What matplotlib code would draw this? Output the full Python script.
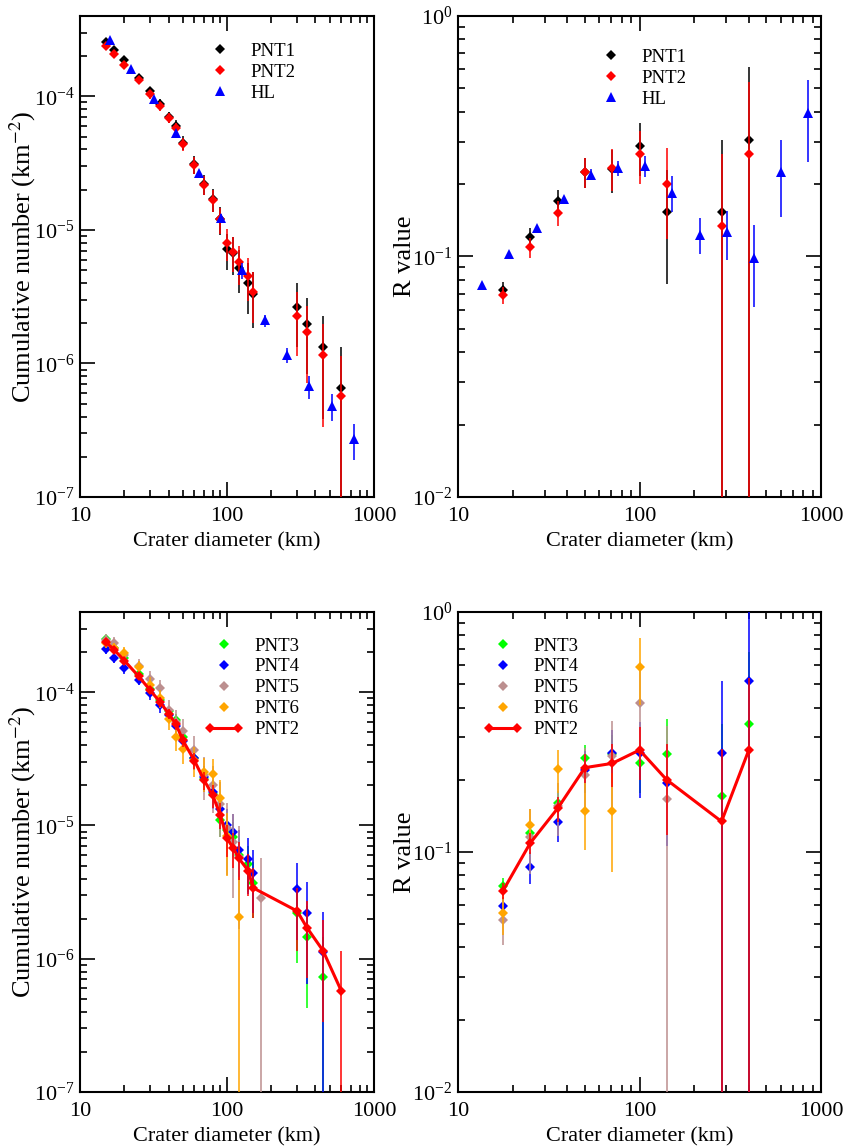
import numpy as np
import matplotlib
matplotlib.use('Agg')
import matplotlib.pyplot as plt
from matplotlib.legend_handler import HandlerLine2D
from matplotlib.ticker import LogLocator, NullFormatter, FixedLocator

plt.rcParams['font.family'] = ['Liberation Serif', 'DejaVu Serif']
plt.rcParams['mathtext.fontset'] = 'stix'

# ---------------- cumulative plots ----------------
d_cum = [15, 17, 20, 25, 30, 35, 40, 45, 50, 60, 70, 80, 90, 100, 110, 120, 140, 150, 300, 350, 450, 600]

pnt1_cum = [2.55e-4, 2.21e-4, 1.86e-4, 1.37e-4, 1.09e-4, 8.8e-5, 7.0e-5, 5.96e-5, 4.5e-5, 3.1e-5, 2.2e-5,
            1.7e-5, 1.2e-5, 7.2e-6, 6.7e-6, 5.2e-6, 4.0e-6, 3.33e-6, 2.65e-6, 1.97e-6, 1.33e-6, 6.6e-7]
pnt1_cum_rel = [0.05, 0.055, 0.06, 0.07, 0.08, 0.09, 0.1, 0.11, 0.12, 0.15, 0.17,
                0.2, 0.24, 0.3, 0.32, 0.35, 0.41, 0.45, 0.5, 0.58, 0.71, 0.999]

pnt2_cum = [2.38e-4, 2.09e-4, 1.73e-4, 1.32e-4, 1.035e-4, 8.46e-5, 6.92e-5, 5.76e-5, 4.37e-5, 3.07e-5, 2.18e-5,
            1.68e-5, 1.2e-5, 8.0e-6, 6.8e-6, 5.7e-6, 4.55e-6, 3.41e-6, 2.28e-6, 1.71e-6, 1.15e-6, 5.72e-7]
pnt2_cum_rel = [0.05, 0.05, 0.06, 0.07, 0.07, 0.08, 0.09, 0.1, 0.11, 0.14, 0.16,
                0.19, 0.22, 0.27, 0.29, 0.32, 0.35, 0.41, 0.5, 0.58, 0.71, 0.999]

d_hl = [15.9, 22.3, 31.8, 45, 64, 90.5, 126.5, 182, 257, 363, 515, 731]
hl_cum = [2.62e-4, 1.59e-4, 9.6e-5, 5.34e-5, 2.65e-5, 1.22e-5, 4.98e-6, 2.1e-6, 1.16e-6, 6.72e-7, 4.84e-7, 2.71e-7]
hl_cum_rel = [0.02, 0.03, 0.03, 0.04, 0.05, 0.07, 0.14, 0.1, 0.13, 0.2, 0.23, 0.3]

d_pnt3 = [15, 17, 20, 25, 30, 35, 40, 45, 50, 60, 70, 80, 90, 100, 110, 120, 140, 150, 300, 350, 450]
pnt3_cum = [2.53e-4, 2.15e-4, 1.80e-4, 1.37e-4, 1.06e-4, 8.8e-5, 7.2e-5, 6.2e-5, 4.6e-5, 3.2e-5, 2.25e-5,
            1.72e-5, 1.1e-5, 9.2e-6, 8.2e-6, 6.0e-6, 5.1e-6, 3.67e-6, 2.2e-6, 1.46e-6, 7.3e-7]
pnt3_cum_rel = [0.054, 0.058, 0.064, 0.073, 0.083, 0.091, 0.1, 0.108, 0.126, 0.15, 0.18,
                0.2, 0.26, 0.28, 0.3, 0.35, 0.38, 0.45, 0.58, 0.71, 0.999]

d_pnt4 = [15, 17, 20, 25, 30, 35, 40, 45, 50, 60, 70, 80, 90, 100, 110, 120, 140, 150, 300, 350, 450]
pnt4_cum = [2.10e-4, 1.81e-4, 1.51e-4, 1.245e-4, 9.8e-5, 8.0e-5, 6.7e-5, 5.6e-5, 4.3e-5, 3.2e-5, 2.3e-5,
            1.77e-5, 1.32e-5, 1.0e-5, 9.0e-6, 6.6e-6, 5.56e-6, 4.37e-6, 3.31e-6, 2.21e-6, 1.13e-6]
pnt4_cum_rel = [0.073, 0.079, 0.086, 0.095, 0.107, 0.12, 0.13, 0.14, 0.16, 0.19, 0.22,
                0.25, 0.29, 0.33, 0.35, 0.41, 0.45, 0.5, 0.58, 0.71, 0.999]

d_pnt5 = [15, 17, 20, 25, 30, 35, 40, 45, 50, 60, 70, 80, 90, 100, 110, 120, 170]
pnt5_cum = [2.48e-4, 2.34e-4, 1.9e-4, 1.57e-4, 1.26e-4, 1.07e-4, 7.3e-5, 6.0e-5, 5.1e-5, 3.67e-5, 2.4e-5,
            2.01e-5, 1.46e-5, 9.5e-6, 7.5e-6, 5.8e-6, 2.87e-6]
pnt5_cum_rel = [0.11, 0.11, 0.12, 0.135, 0.15, 0.16, 0.2, 0.22, 0.24, 0.28, 0.35,
                0.38, 0.44, 0.55, 0.62, 0.71, 0.999]

d_pnt6 = [15, 17, 20, 25, 30, 35, 40, 45, 50, 60, 70, 80, 90, 100, 120]
pnt6_cum = [2.35e-4, 2.15e-4, 1.97e-4, 1.55e-4, 1.14e-4, 9.0e-5, 6.3e-5, 4.62e-5, 3.78e-5, 3.1e-5, 2.5e-5,
            2.44e-5, 1.62e-5, 8.3e-6, 2.07e-6]
pnt6_cum_rel = [0.094, 0.098, 0.10, 0.115, 0.135, 0.15, 0.18, 0.21, 0.235, 0.25, 0.29,
                0.29, 0.35, 0.5, 0.999]

# ---------------- R plots ----------------
d_r = [17.7, 25, 35.4, 50, 70.7, 100, 141, 283, 400]

pnt1_r = [0.0726, 0.120, 0.170, 0.225, 0.230, 0.288, 0.153, 0.153, 0.306]
pnt1_r_rel = [0.08, 0.09, 0.11, 0.14, 0.2, 0.25, 0.5, 0.999, 0.999]

pnt2_r = [0.069, 0.109, 0.152, 0.2246, 0.234, 0.266, 0.200, 0.134, 0.266]
pnt2_r_rel = [0.08, 0.1, 0.12, 0.14, 0.2, 0.25, 0.41, 0.999, 0.999]

d_hl_r = [13.5, 19.0, 27.1, 38.2, 53.8, 76.1, 107.6, 151.5, 214, 302, 425, 602, 851]
hl_r = [0.0761, 0.102, 0.131, 0.173, 0.219, 0.233, 0.238, 0.184, 0.123, 0.126, 0.0983, 0.225, 0.394]
hl_r_rel = [0.02, 0.02, 0.03, 0.03, 0.05, 0.07, 0.1, 0.17, 0.17, 0.23, 0.37, 0.35, 0.37]

pnt3_r = [0.0724, 0.1197, 0.1605, 0.2457, 0.255, 0.234, 0.255, 0.171, 0.340]
pnt3_r_rel = [0.08, 0.1, 0.12, 0.135, 0.2, 0.25, 0.4, 0.999, 0.999]

pnt4_r = [0.0596, 0.0866, 0.133, 0.22, 0.258, 0.259, 0.193, 0.258, 0.516]
pnt4_r_rel = [0.09, 0.15, 0.17, 0.2, 0.25, 0.35, 0.45, 0.999, 0.999]

d_pnt5_r = [17.7, 25, 35.4, 50, 70.7, 100, 141]
pnt5_r = [0.052, 0.116, 0.155, 0.2094, 0.251, 0.416, 0.167]
pnt5_r_rel = [0.21, 0.3, 0.25, 0.3, 0.4, 0.45, 0.999]

d_pnt6_r = [17.7, 25, 35.4, 50, 70.7, 100]
pnt6_r = [0.0555, 0.1296, 0.221, 0.148, 0.148, 0.592]
pnt6_r_rel = [0.19, 0.17, 0.2, 0.31, 0.44, 0.31]

BROWN = '#bc8f8f'
ORANGE = '#ffa500'
GREEN = '#00ff00'


def style(ax, ylo, yhi, right=True):
    ax.set_xscale('log')
    ax.set_yscale('log')
    ax.set_xlim(10, 1000)
    ax.set_ylim(ylo, yhi)
    ax.xaxis.set_major_locator(FixedLocator([10, 100, 1000]))
    ax.set_xticklabels(['10', '100', '1000'])
    ax.xaxis.set_minor_locator(LogLocator(base=10, subs=np.arange(2, 10), numticks=20))
    ax.xaxis.set_minor_formatter(NullFormatter())
    ax.yaxis.set_major_locator(LogLocator(base=10, numticks=20))
    ax.yaxis.set_minor_locator(LogLocator(base=10, subs=np.arange(2, 10), numticks=20))
    ax.yaxis.set_minor_formatter(NullFormatter())
    ax.tick_params(which='both', direction='in', top=True, right=right, width=1.2, labelsize=16)
    ax.tick_params(which='major', length=11)
    ax.tick_params(axis='x', which='major', pad=7)
    ax.tick_params(axis='y', which='major', pad=4)
    ax.tick_params(which='minor', length=5)
    for s in ax.spines.values():
        s.set_linewidth(1.5)
    ax.set_xlabel('Crater diameter (km)', fontsize=16, labelpad=5)


def series(ax, x, y, rel, color, marker='D', ms=5, z=2, **kw):
    x = np.array(x)
    y = np.array(y)
    ax.errorbar(x, y, yerr=y * np.array(rel), fmt='none', ecolor=color,
                elinewidth=1.3, capsize=0, alpha=0.85, zorder=z)
    line, = ax.plot(x, y, marker=marker, color=color, ms=ms, mew=0, zorder=z + 0.5, **kw)
    return line


fig = plt.figure(figsize=(8.44, 11.48), dpi=100)
ax1 = fig.add_axes([0.0948, 0.5671, 0.3483, 0.4190])
ax2 = fig.add_axes([0.5427, 0.5671, 0.4301, 0.4190])
ax3 = fig.add_axes([0.0948, 0.0488, 0.3483, 0.4181])
ax4 = fig.add_axes([0.5427, 0.0488, 0.4301, 0.4181])

leg_kw = dict(loc='upper left', frameon=False, fontsize=13.5, handlelength=2.1,
              handletextpad=0.6, labelspacing=0.2, borderpad=0, borderaxespad=0, numpoints=1)
YLAB = 19

# top left
style(ax1, 1e-7, 4e-4, right=False)
h1 = series(ax1, d_cum, pnt1_cum, pnt1_cum_rel, 'black', ls='none', z=2, label='PNT1')
h2 = series(ax1, d_cum, pnt2_cum, pnt2_cum_rel, 'red', ls='none', z=3, label='PNT2')
h3 = series(ax1, d_hl, hl_cum, hl_cum_rel, 'blue', marker='^', ms=7.5, z=4, ls='none', label='HL')
ax1.set_ylabel('Cumulative number (km$^{-2}$)', fontsize=YLAB)
ax1.yaxis.set_label_coords(-0.143, 0.5)
ax1.legend(handles=[h1, h2, h3], bbox_to_anchor=(0.408, 0.944), **leg_kw)

# top right
style(ax2, 1e-2, 1)
h1 = series(ax2, d_r, pnt1_r, pnt1_r_rel, 'black', ls='none', z=2, label='PNT1')
h2 = series(ax2, d_r, pnt2_r, pnt2_r_rel, 'red', ls='none', z=3, label='PNT2')
h3 = series(ax2, d_hl_r, hl_r, hl_r_rel, 'blue', marker='^', ms=7.5, z=4, ls='none', label='HL')
ax2.set_ylabel('R value', fontsize=YLAB)
ax2.yaxis.set_label_coords(-0.116, 0.5)
ax2.legend(handles=[h1, h2, h3], bbox_to_anchor=(0.366, 0.932), **leg_kw)

# bottom left
style(ax3, 1e-7, 4e-4)
g3 = series(ax3, d_pnt3, pnt3_cum, pnt3_cum_rel, GREEN, ls='none', z=2, label='PNT3')
g4 = series(ax3, d_pnt4, pnt4_cum, pnt4_cum_rel, 'blue', ls='none', z=3, label='PNT4')
g5 = series(ax3, d_pnt5, pnt5_cum, pnt5_cum_rel, BROWN, ls='none', z=4, label='PNT5')
g6 = series(ax3, d_pnt6, pnt6_cum, pnt6_cum_rel, ORANGE, ls='none', z=5, label='PNT6')
g2 = series(ax3, d_cum, pnt2_cum, pnt2_cum_rel, 'red', z=6, lw=2.2, label='PNT2')
ax3.set_ylabel('Cumulative number (km$^{-2}$)', fontsize=YLAB)
ax3.yaxis.set_label_coords(-0.143, 0.5)
ax3.legend(handles=[g3, g4, g5, g6, g2], bbox_to_anchor=(0.422, 0.947),
           handler_map={g2: HandlerLine2D(numpoints=2)}, **leg_kw)

# bottom right
style(ax4, 1e-2, 1)
g3 = series(ax4, d_r, pnt3_r, pnt3_r_rel, GREEN, ls='none', z=2, label='PNT3')
g4 = series(ax4, d_r, pnt4_r, pnt4_r_rel, 'blue', ls='none', z=3, label='PNT4')
g5 = series(ax4, d_pnt5_r, pnt5_r, pnt5_r_rel, BROWN, ls='none', z=4, label='PNT5')
g6 = series(ax4, d_pnt6_r, pnt6_r, pnt6_r_rel, ORANGE, ls='none', z=5, label='PNT6')
g2 = series(ax4, d_r, pnt2_r, pnt2_r_rel, 'red', z=6, lw=2.2, label='PNT2')
ax4.set_ylabel('R value', fontsize=YLAB)
ax4.yaxis.set_label_coords(-0.116, 0.5)
ax4.legend(handles=[g3, g4, g5, g6, g2], bbox_to_anchor=(0.069, 0.947),
           handler_map={g2: HandlerLine2D(numpoints=2)}, **leg_kw)

fig.savefig('out.png', dpi=100)
